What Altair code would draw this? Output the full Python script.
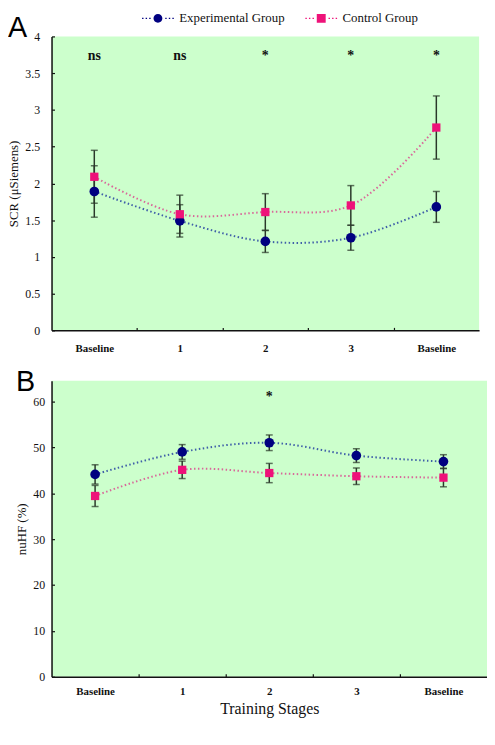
import json
import pandas as pd
import altair as alt

# ---------------- data ----------------
stages = ["Baseline", "1", "2", "3", "Baseline"]
groups = ["Experimental Group", "Control Group"]

scr_exp = [1.89, 1.49, 1.21, 1.26, 1.68]
scr_exp_err = [0.35, 0.22, 0.15, 0.17, 0.21]
scr_ctl = [2.09, 1.58, 1.61, 1.70, 2.76]
scr_ctl_err = [0.36, 0.26, 0.25, 0.27, 0.43]
scr_sig = ["ns", "ns", "*", "*", "*"]
scr_ticks = [0, 0.5, 1, 1.5, 2, 2.5, 3, 3.5, 4]

hf_exp = [44.1, 49.0, 51.0, 48.2, 46.9]
hf_exp_err = [2.1, 1.6, 1.7, 1.5, 1.5]
hf_ctl = [39.4, 45.1, 44.4, 43.7, 43.4]
hf_ctl_err = [2.3, 1.9, 2.1, 1.8, 2.0]
hf_sig = ["", "", "*", "", ""]
hf_ticks = [0, 10, 20, 30, 40, 50, 60]

# ---------------- style ----------------
SERIF = "Liberation Serif"
SANS = "Liberation Sans"
AX = "#111111"
BG = "#CCFFCC"
POINT_COLORS = ["#000080", "#EE1279"]
LINE_COLORS = ["#3F5FA8", "#D8689A"]
ERR = "#2A382A"


def dots(xs):
    return "".join(f"M{x - 0.16:.2f},-0.16h0.32v0.32h-0.32Z" for x in xs)


DOT_XS = [-3.4, -2.6, -1.8, 1.8, 2.6, 3.4]
CIRCLE_PATH = "M-1,0A1,1,0,1,1,1,0A1,1,0,1,1,-1,0Z" + dots(DOT_XS)
SQUARE_PATH = "M-1,-1H1V1H-1Z" + dots(DOT_XS)


def frame(exp, exp_err, ctl, ctl_err):
    rows = []
    for g, vals, errs in ((groups[0], exp, exp_err), (groups[1], ctl, ctl_err)):
        for i, (v, e) in enumerate(zip(vals, errs)):
            rows.append({"pos": i, "stage": stages[i], "group": g,
                         "value": v, "lo": v - e, "hi": v + e})
    return pd.DataFrame(rows)


def panel(df, sig, ydom, yvals, yfmt, ytitle, W, H, letter, letter_x, letter_y,
          sig_y, ylabel_pad, ytitle_pad, xlabel_pad, xtitle=None, legend=False):
    xscale = alt.Scale(domain=[-0.5, 4.5], nice=False, zero=False)
    yscale = alt.Scale(domain=ydom, nice=False, zero=False)
    xkw = dict(values=[0, 1, 2, 3, 4],
               labelExpr=json.dumps(stages) + "[datum.value]",
               ticks=False, grid=False, domainColor=AX, domainWidth=1.5,
               labelFont=SERIF, labelFontSize=11, labelFontWeight="bold",
               labelColor=AX, labelPadding=xlabel_pad, labelFlush=False,
               labelOverlap=False)
    if xtitle:
        xkw.update(title=xtitle, titleFont=SERIF, titleFontSize=16,
                   titleFontWeight="normal", titleColor=AX, titlePadding=4)
    else:
        xkw.update(title=None)
    xaxis = alt.Axis(**xkw)
    yaxis = alt.Axis(values=yvals, format=yfmt, ticks=False, grid=False,
                     domainColor=AX, domainWidth=1.5, labelFont=SERIF,
                     labelFontSize=12, labelColor=AX, labelPadding=ylabel_pad,
                     title=ytitle, titleFont=SERIF, titleFontSize=13,
                     titleFontWeight="normal", titleColor=AX,
                     titlePadding=ytitle_pad)
    X = alt.X("pos:Q", scale=xscale, axis=xaxis)

    def Y(f):
        return alt.Y(f"{f}:Q", scale=yscale, axis=yaxis)

    base = alt.Chart(df)
    layers = []
    for g, lc in zip(groups, LINE_COLORS):
        layers.append(
            base.transform_filter(alt.datum.group == g)
            .mark_line(color=lc, strokeWidth=2, strokeDash=[1.5, 2.5],
                       interpolate="catmull-rom")
            .encode(x=X, y=Y("value"))
        )
    layers.append(base.mark_rule(color=ERR, strokeWidth=1.5)
                  .encode(x=X, y=Y("lo"), y2="hi:Q"))
    for f in ("lo", "hi"):
        layers.append(base.mark_tick(color=ERR, orient="horizontal", size=7,
                                     thickness=1.5)
                      .encode(x=X, y=Y(f)))
    for g, pc, shp, sz in zip(groups, POINT_COLORS, ["circle", "square"], [95, 70]):
        layers.append(
            base.transform_filter(alt.datum.group == g)
            .mark_point(filled=True, opacity=1, color=pc, shape=shp, size=sz)
            .encode(x=X, y=Y("value"))
        )
    sig_df = pd.DataFrame({"pos": list(range(len(stages))), "sig": sig})
    layers.append(
        alt.Chart(sig_df).mark_text(font=SERIF, fontSize=14, fontWeight="bold",
                                    color=AX, baseline="middle")
        .encode(x=X, y=alt.value(sig_y), text="sig:N")
    )
    layers.append(
        alt.Chart(pd.DataFrame({"t": [letter]}))
        .mark_text(font=SANS, fontSize=29, align="left", baseline="top",
                   color="#000000")
        .encode(x=alt.value(letter_x), y=alt.value(letter_y), text="t:N")
    )
    if legend:
        leg = alt.Legend(orient="none", legendX=101, legendY=-25,
                         direction="horizontal", title=None, labelFont=SERIF,
                         labelFontSize=13, labelColor=AX, symbolSize=81,
                         symbolOpacity=1, symbolStrokeWidth=0, labelOffset=15,
                         columnPadding=20, padding=0)
        layers.append(
            base.mark_point(filled=True, opacity=0, size=81)
            .encode(x=X, y=Y("value"),
                    color=alt.Color("group:N",
                                    scale=alt.Scale(domain=groups, range=POINT_COLORS),
                                    legend=leg),
                    shape=alt.Shape("group:N",
                                    scale=alt.Scale(domain=groups,
                                                    range=[CIRCLE_PATH, SQUARE_PATH]),
                                    legend=leg))
        )
    main = alt.layer(*layers)
    tk = alt.Chart(df).mark_point(opacity=0).encode(
        x=alt.X("pos:Q", scale=xscale,
                axis=alt.Axis(orient="top", offset=-H, values=[0.5, 1.5, 2.5, 3.5],
                              labels=False, domain=False, grid=False, ticks=True,
                              tickSize=3, tickColor=AX, tickWidth=1.2, title=None)),
        y=alt.Y("value:Q", scale=yscale,
                axis=alt.Axis(orient="right", offset=-W, values=yvals,
                              labels=False, domain=False, grid=False, ticks=True,
                              tickSize=3, tickColor=AX, tickWidth=1.2, title=None)),
    )
    return (alt.layer(main, tk)
            .resolve_scale(x="independent", y="independent")
            .properties(width=W, height=H))


dfA = frame(scr_exp, scr_exp_err, scr_ctl, scr_ctl_err)
dfB = frame(hf_exp, hf_exp_err, hf_ctl, hf_ctl_err)

chartA = panel(dfA, scr_sig, [0, 4], scr_ticks, "~g", "SCR (μSiemens)",
               432, 297, "A", -44, -22, 20, 12, 4, 12, legend=True)
chartB = panel(dfB, hf_sig, [0, 64.5], hf_ticks, "d", "nuHF (%)",
               440, 299, "B", -36, -13, 16, 7, 4, 9, xtitle="Training Stages")

chart = (alt.vconcat(chartA, chartB, spacing=15)
         .resolve_scale(color="independent", shape="independent")
         .configure_view(fill=BG, stroke=None)
         .properties(padding=0, background="white"))

chart.save("out.html", embed_options={"renderer": "svg", "actions": False})
